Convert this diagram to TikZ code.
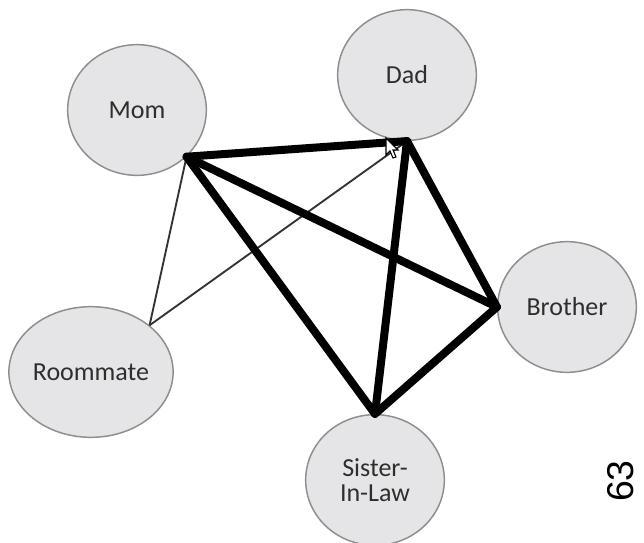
\documentclass[tikz,border=0pt]{standalone}
\usepackage{fontspec}
\setmainfont{Carlito}
\newfontfamily\pagefont{Liberation Sans}
\usepackage{tikz}
\usetikzlibrary{shapes.geometric,calc}

\definecolor{bubblefill}{HTML}{E5E5E7}
\definecolor{bubbleline}{HTML}{8E8E8E}
\definecolor{labeltext}{HTML}{2E2E2E}

\begin{document}
\begin{tikzpicture}[
    x=0.75pt, y=-0.75pt,
    person/.style={ellipse, draw=bubbleline, line width=1.1pt, fill=bubblefill, minimum width=104pt, minimum height=98pt, inner sep=0pt, align=center, text=labeltext, font=\fontsize{19.5}{21}\selectfont},
    strong/.style={line width=6pt, line cap=round, line join=round},
    weak/.style={line width=1.4pt, draw=black!80}
]
    \useasboundingbox (0,0) rectangle (644,543);

    \node[person] (mom) at (137,110) {Mom};
    \node[person] (dad) at (407,75) {Dad};
    \node[person] (brother) at (567,307) {Brother};
    \node[person] (roommate) at (91,372) {Roommate};
    \node[person] (sister) at (375,480) {Sister-\\[-2pt]In-Law};

    % weak ties
    \draw[weak] (roommate.north east) -- (mom.south east);
    \draw[weak] (roommate.north east) -- (dad.south);

    % strong ties
    \draw[strong] (mom.south east) -- (dad.south);
    \draw[strong] (mom.south east) -- (brother.west);
    \draw[strong] (mom.south east) -- (sister.north);
    \draw[strong] (dad.south) -- (brother.west);
    \draw[strong] (dad.south) -- (sister.north);
    \draw[strong] (brother.west) -- (sister.north);

    % mouse pointer
    \draw[fill=white, line width=0.8pt, shift={(386,138)}]
        (0,0) -- (0,17) -- (4,13) -- (7,20) -- (10,19) -- (7,12) -- (12,12) -- cycle;

    \node[rotate=90, inner sep=0pt, font=\fontsize{28}{30}\selectfont\pagefont] (page) at (621,481) {63};
\end{tikzpicture}
\end{document}
